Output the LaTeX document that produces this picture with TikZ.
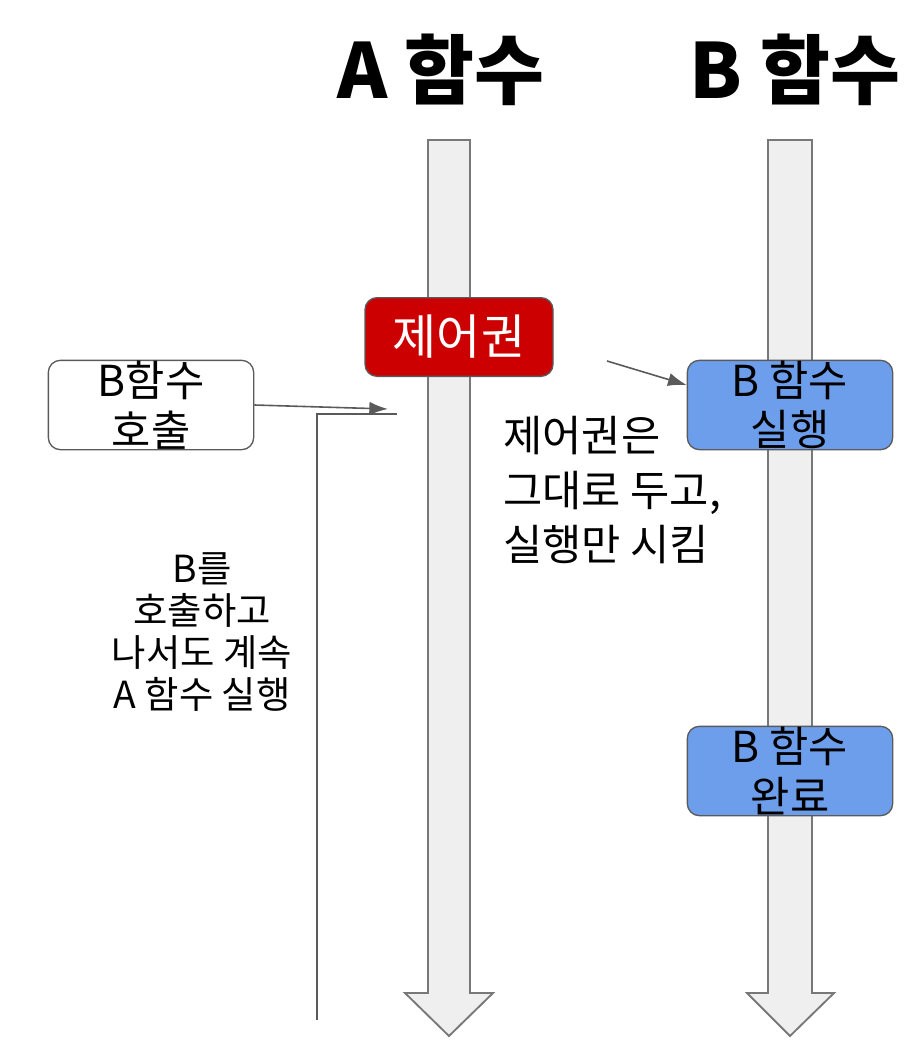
\documentclass[tikz,border=0pt]{standalone}
\usepackage{fontspec}
\setmainfont{Noto Sans CJK KR}
\usetikzlibrary{arrows.meta,positioning}
\definecolor{shaftgray}{RGB}{239,239,239}
\definecolor{edgegray}{RGB}{120,120,120}
\definecolor{linegray}{RGB}{90,90,90}
\definecolor{ctrlred}{RGB}{204,0,0}
\definecolor{runblue}{RGB}{109,158,235}

\begin{document}
\begin{tikzpicture}[
  x=0.75pt, y=-0.75pt,
  every node/.style={font=\fontsize{32}{37}\selectfont, align=center, inner sep=0pt},
  box/.style={draw=linegray, line width=1pt, rounded corners=9pt, minimum width=154pt, minimum height=67pt},
  flow/.style={draw=edgegray, line width=1.4pt, fill=shaftgray, line join=miter},
  link/.style={draw=linegray, line width=1.2pt},
  title/.style={font=\fontsize{57}{64}\selectfont\bfseries}
]
\useasboundingbox (0,0) rectangle (924,1060);

% time axes
\draw[flow] (428,140) -- (470,140) -- (470,993) -- (493,993) -- (449,1036)
  -- (405,993) -- (428,993) -- cycle;
\draw[flow] (768,140) -- (812,140) -- (812,993) -- (834,993) -- (790,1036)
  -- (747,993) -- (768,993) -- cycle;

% headings
\node[title] (ta) at (441,70) {A 함수};
\node[title] (tb) at (795,70) {B 함수};

% boxes
\node[box, fill=ctrlred, text=white, minimum width=141pt, minimum height=59pt,
  font=\fontsize{36}{40}\selectfont] (ctrl) at (459,337) {제어권};
\node[box, fill=white] (call) at (151,405) {B함수\\호출};
\node[box, fill=runblue] (run) at (790,405) {B 함수\\실행};
\node[box, fill=runblue] (done) at (790,771) {B 함수\\완료};

% notes
\node[font=\fontsize{28}{31.5}\selectfont] (keep) at (202,632)
  {B를\\호출하고\\나서도 계속\\A 함수 실행};
\node[align=left, font=\fontsize{32}{41}\selectfont, anchor=north west] (note) at (503,416)
  {제어권은\\그대로 두고,\\실행만 시킴};

% connectors
\coordinate (hit) at (388,409);
\coordinate (back) at (397,414);
\coordinate (floor) at (317,1020);
\coordinate (from) at (607,361);
\draw[link, -{Latex[length=14pt,width=10pt]}] (call.east) -- (hit);
\draw[link] (floor) |- (back);
\draw[link, -{Latex[length=14pt,width=10pt]}] (from) -- (run.west |- 0,385);
\end{tikzpicture}
\end{document}
